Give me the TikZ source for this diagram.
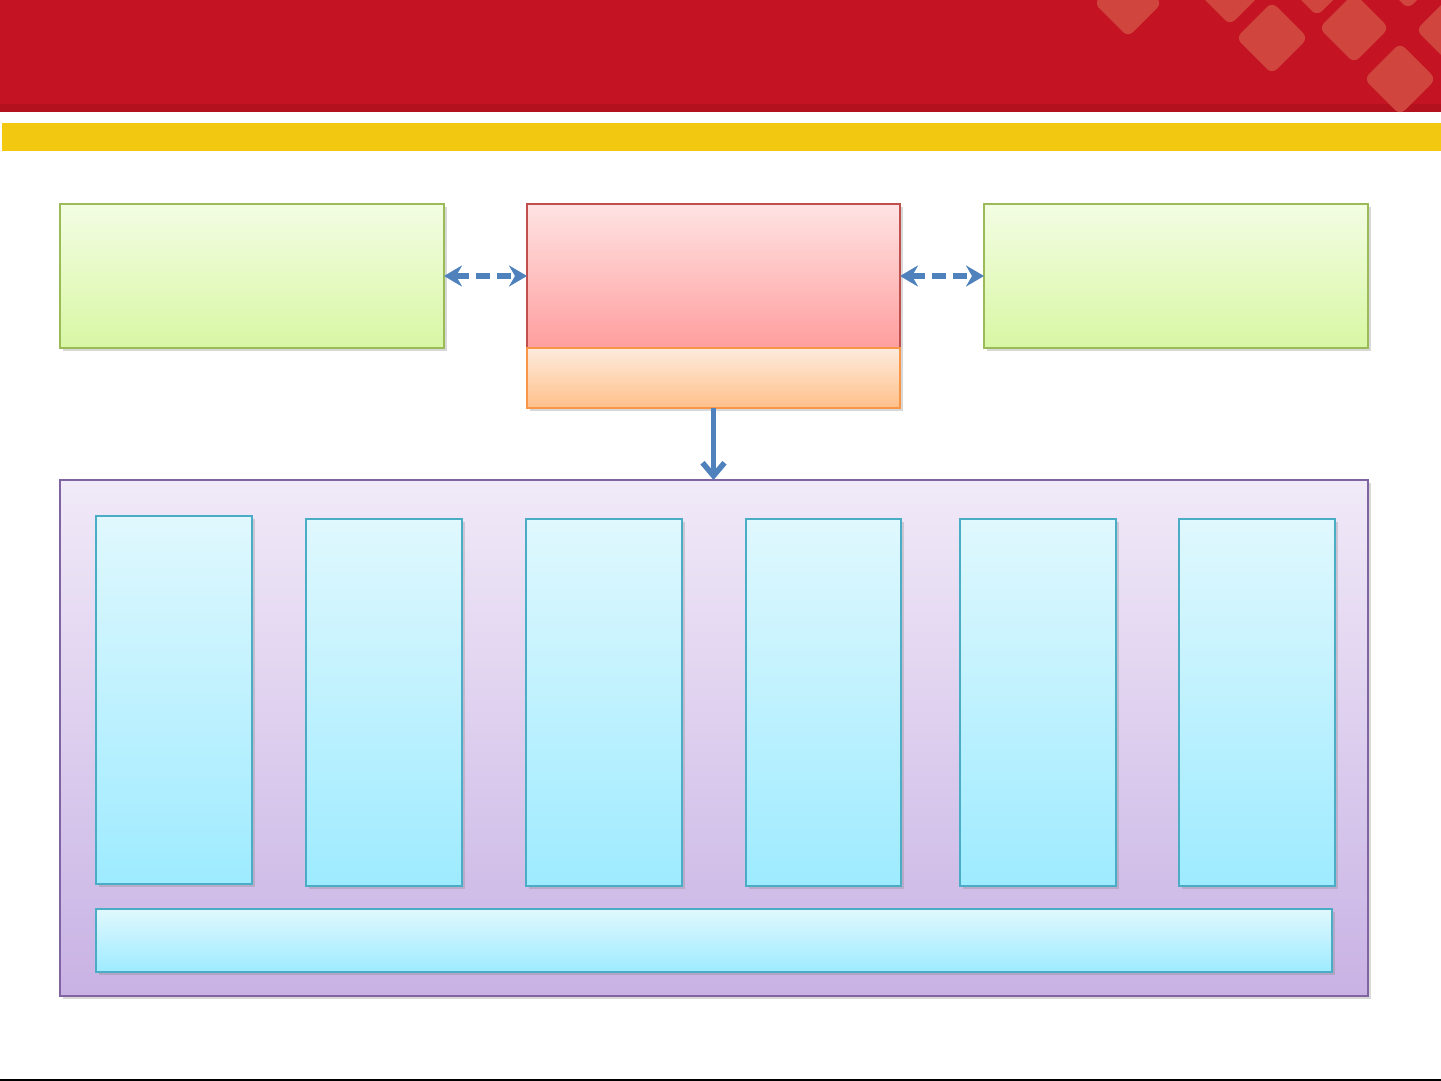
\documentclass[tikz,border=0pt]{standalone}
\usetikzlibrary{arrows.meta,shadows}
\definecolor{bandred}{HTML}{C41323}
\definecolor{bandreddark}{HTML}{B3111E}
\definecolor{diamondred}{HTML}{D0463E}
\definecolor{bandyellow}{HTML}{F2C811}
\definecolor{greentop}{HTML}{F3FDE3}
\definecolor{greenbot}{HTML}{D8F7A4}
\definecolor{greenline}{HTML}{9BBB59}
\definecolor{redtop}{HTML}{FFE3E3}
\definecolor{redbot}{HTML}{FF9E9E}
\definecolor{redline}{HTML}{C0504D}
\definecolor{orangetop}{HTML}{FDEBDD}
\definecolor{orangebot}{HTML}{FFC08A}
\definecolor{orangeline}{HTML}{F79646}
\definecolor{purpletop}{HTML}{F1EAF8}
\definecolor{purplebot}{HTML}{C8B2E4}
\definecolor{purpleline}{HTML}{8064A2}
\definecolor{bluetop}{HTML}{E0F8FE}
\definecolor{bluebot}{HTML}{9EEBFF}
\definecolor{blueline}{HTML}{4BACC6}
\definecolor{arrowblue}{HTML}{4F81BD}
\tikzset{
  panel/.style={anchor=north west, draw, line width=2.7pt, inner sep=0pt, outer sep=0pt,
    drop shadow={opacity=0.3, shadow xshift=2.5pt, shadow yshift=-3pt}},
  greenbox/.style={panel, draw=greenline, top color=greentop, bottom color=greenbot},
  redbox/.style={panel, draw=redline, top color=redtop, bottom color=redbot},
  orangebox/.style={panel, draw=orangeline, top color=orangetop, bottom color=orangebot},
  purplebox/.style={panel, draw=purpleline, top color=purpletop, bottom color=purplebot},
  bluebox/.style={panel, draw=blueline, top color=bluetop, bottom color=bluebot},
  dasharrow/.style={arrowblue, line width=5.5pt, dash pattern=on 14pt off 7pt,
    {Stealth[length=18pt,width=21pt,inset=6pt]}-{Stealth[length=18pt,width=21pt,inset=6pt]}},
  downarrow/.style={arrowblue, line width=5.5pt, -{Straight Barb[length=13pt,width=22pt]}},
  diam/.style={fill=diamondred, rounded corners=7pt}
}
\begin{document}
\begin{tikzpicture}[x=1pt,y=-1pt]
\useasboundingbox (0,0) rectangle (1441,1081);
\fill[white] (0,0) rectangle (1441,1081);
% header band
\fill[bandred] (0,0) rectangle (1441,112);
\fill[bandreddark] (0,104) rectangle (1441,112);
\begin{scope}
\clip (0,0) rectangle (1441,113);
\foreach \cx/\cy/\h in {1128/3/34, 1230/-8/33, 1272/38/36, 1317/-18/34, 1354/28/35, 1408/-25/34, 1451/30/35, 1400/79/36}{
  \fill[diam] (\cx,\cy-\h) -- (\cx+\h,\cy) -- (\cx,\cy+\h) -- (\cx-\h,\cy) -- cycle;
}
\end{scope}
\fill[bandyellow] (2,123) rectangle (1441,151);
% top row
\node[greenbox, minimum width=384pt, minimum height=144pt] (lg) at (60,204) {};
\node[redbox, minimum width=373pt, minimum height=144pt] (rc) at (527,204) {};
\node[orangebox, minimum width=373pt, minimum height=60pt] (oc) at (527,348) {};
\node[greenbox, minimum width=384pt, minimum height=144pt] (rg) at (984,204) {};
% container
\node[purplebox, minimum width=1308pt, minimum height=516pt] (pp) at (60,480) {};
\node[bluebox, minimum width=156pt, minimum height=368pt] (c1) at (96,516) {};
\node[bluebox, minimum width=156pt, minimum height=367pt] (c2) at (306,519) {};
\node[bluebox, minimum width=156pt, minimum height=367pt] (c3) at (526,519) {};
\node[bluebox, minimum width=155pt, minimum height=367pt] (c4) at (746,519) {};
\node[bluebox, minimum width=156pt, minimum height=367pt] (c5) at (960,519) {};
\node[bluebox, minimum width=156pt, minimum height=367pt] (c6) at (1179,519) {};
\node[bluebox, minimum width=1236pt, minimum height=63pt] (bb) at (96,909) {};
% connectors
\draw[dasharrow] (lg.east) -- (rc.west);
\draw[dasharrow] (rc.east) -- (rg.west);
\draw[downarrow] (oc.south) -- (oc.south |- pp.north);
% bottom rule
\fill[black] (0,1079) rectangle (1441,1081);
\end{tikzpicture}
\end{document}
